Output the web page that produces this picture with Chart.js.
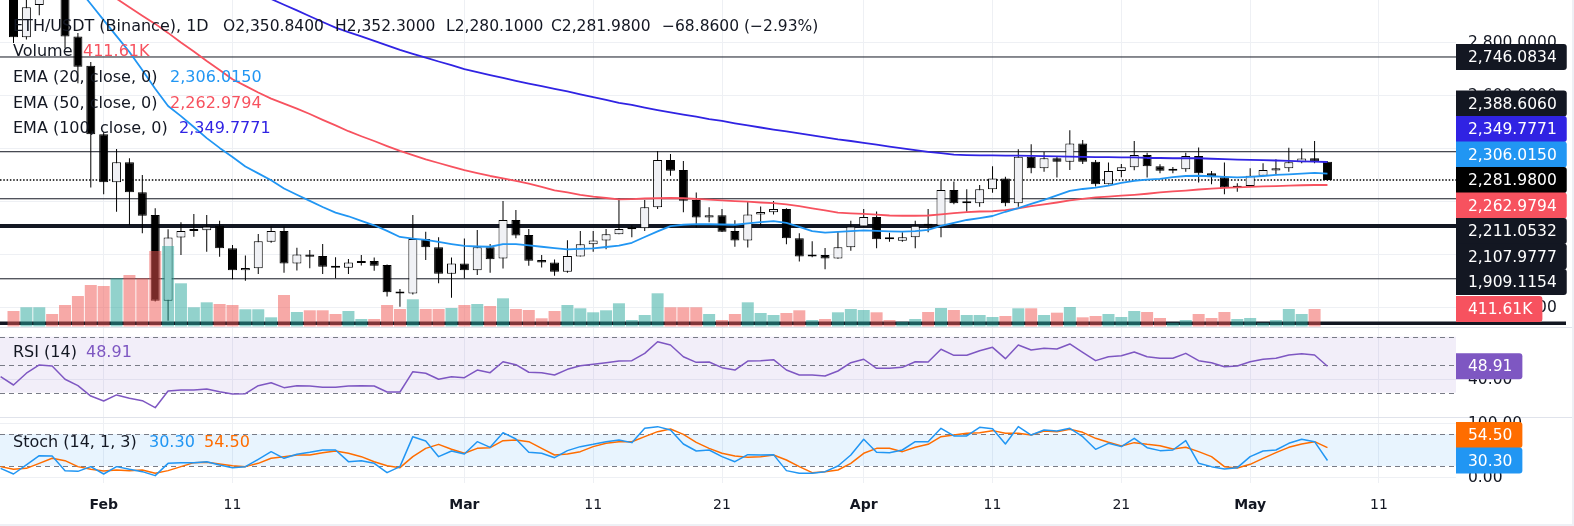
<!DOCTYPE html>
<html>
<head>
<meta charset="utf-8">
<title>ETH/USDT (Binance), 1D</title>
<script src="https://cdn.jsdelivr.net/npm/chart.js@4.4.1/dist/chart.umd.min.js"></script>
<style>
  html, body { margin:0; padding:0; background:#eef0f5; }
  #c { position:absolute; left:0; top:0; background:#ffffff; }
</style>
</head>
<body>
<canvas id="c" width="1572" height="524"></canvas>
<script>
// ================= DATA =================
const dates = [
  '01-24','01-25','01-26','01-27','01-28','01-29','01-30','01-31',
  '02-01','02-02','02-03','02-04','02-05','02-06','02-07','02-08','02-09','02-10','02-11','02-12','02-13','02-14',
  '02-15','02-16','02-17','02-18','02-19','02-20','02-21','02-22','02-23','02-24','02-25','02-26','02-27','02-28',
  '03-01','03-02','03-03','03-04','03-05','03-06','03-07','03-08','03-09','03-10','03-11','03-12','03-13','03-14','03-15','03-16',
  '03-17','03-18','03-19','03-20','03-21','03-22','03-23','03-24','03-25','03-26','03-27','03-28','03-29','03-30','03-31',
  '04-01','04-02','04-03','04-04','04-05','04-06','04-07','04-08','04-09','04-10','04-11','04-12','04-13','04-14','04-15',
  '04-16','04-17','04-18','04-19','04-20','04-21','04-22','04-23','04-24','04-25','04-26','04-27','04-28','04-29','04-30',
  '05-01','05-02','05-03','05-04','05-05','05-06','05-07'
];
const open = [
  null,3020,2821,2942,3040,3010,2823,2713,
  2455,2273,2349,2236,2150,1826,2065,2089,2092,2109,2024,1941,1949,2049,2089,1967,2001,1995,1956,1951,1969,1976,1961,1860,1854,2059,2028,1928,
  1967,1941,2028,1986,2131,2074,1980,1971,1936,1993,2039,2054,2077,2096,2100,2179,2357,2320,2206,2140,2149,2089,2054,2152,2160,2172,2062,1993,1999,1986,2028,
  2106,2142,2061,2053,2066,2113,2109,2244,2194,2194,2247,2288,2194,2370,2326,2364,2351,2420,2351,2266,2316,2330,2376,2334,2317,2322,2372,2307,2292,2253,
  2259,2298,2318,2326,2349,2364,2350.84
];
const high = [
  null,3060,2990,3060,3075,3030,2837,2727,
  2462,2399,2364,2301,2175,2096,2122,2154,2150,2128,2037,1997,2078,2106,2106,2026,2018,2040,1990,1984,1999,1989,1963,1871,2150,2087,2066,1989,
  2061,2093,2040,2203,2169,2097,1999,1982,2055,2089,2089,2097,2212,2111,2206,2391,2380,2354,2235,2179,2172,2130,2203,2182,2203,2175,2081,2051,2025,2089,2128,
  2172,2163,2083,2085,2128,2172,2278,2276,2247,2263,2334,2294,2398,2417,2388,2372,2470,2433,2357,2348,2342,2429,2385,2341,2331,2385,2405,2316,2348,2270,
  2326,2345,2360,2404,2401,2429,2352.30
];
const low = [
  null,2799,2812,2904,2975,2779,2647,2254,
  2228,2162,2112,2081,1823,1751,1999,2068,2011,1992,1907,1902,1927,2045,1932,1940,1949,1927,1911,1927,1959,1939,1842,1804,1850,1980,1892,1838,
  1911,1923,1932,1948,2062,1958,1952,1921,1932,1993,2011,2021,2077,2066,2089,2172,2298,2160,2103,2122,2086,2030,2027,2109,2152,2039,1974,1990,1945,1985,2015,
  2105,2024,2049,2049,2024,2085,2066,2190,2162,2181,2234,2183,2181,2307,2313,2291,2320,2342,2257,2265,2292,2319,2291,2307,2307,2313,2272,2266,2228,2238,
  2258,2297,2300,2313,2345,2345,2280.10
];
const close = [
  null,2821,2934,3040,3010,2823,2709,2455,
  2273,2349,2236,2147,1826,2065,2089,2094,2106,2024,1941,1950,2051,2089,1967,2001,1992,1955,1951,1971,1975,1958,1858,1854,2059,2028,1928,1967,
  1941,2028,1983,2131,2072,1977,1971,1936,1995,2039,2054,2077,2097,2101,2179,2357,2317,2204,2140,2149,2087,2054,2152,2161,2172,2062,1993,1999,1986,2028,2106,
  2142,2058,2058,2066,2109,2109,2244,2194,2198,2247,2288,2194,2370,2326,2364,2351,2420,2351,2266,2316,2330,2376,2334,2317,2322,2372,2307,2292,2253,2259,
  2298,2320,2326,2349,2363,2350.84,2281.98
];
// volume in thousands (K)
const volume = [
  null,365,452,452,294,506,717,976,
  953,1134,1211,1134,1776,1893,1016,452,569,529,506,405,405,216,741,341,381,381,294,365,176,176,506,412,640,412,412,435,
  506,529,482,663,412,388,193,365,506,428,334,381,546,153,270,781,452,452,452,294,153,294,569,318,270,318,381,153,176,334,412,
  388,334,153,113,176,341,435,388,270,270,223,247,428,428,270,325,459,216,247,294,223,365,341,200,89,153,294,200,341,176,
  200,89,153,412,294,411.61,null
];
const ema20 = [
  3190,3170,3150,3120,3090,3050,3006,2946,
  2885,2825,2765,2697,2626,2561,2523,2482,2440,2403,2369,2333,2307,2281,2250,2226,2203,2180,2159,2145,2128,2111,2090,2067,2061,2056,2048,2040,
  2033,2031,2030,2040,2040,2035,2030,2025,2020,2022,2024,2029,2034,2045,2067,2088,2108,2113,2115,2115,2114,2113,2118,2123,2127,2120,2105,2089,2083,2086,2089,
  2092,2090,2088,2087,2089,2094,2109,2120,2131,2138,2146,2162,2176,2192,2207,2224,2241,2248,2253,2261,2271,2279,2283,2286,2293,2297,2298,2296,2294,2292,
  2294,2297,2301,2303,2306,2309,2306.0150
];
const ema50 = [
  3255,3225,3195,3161,3127,3097,3064,3032,
  2999,2966,2934,2902,2871,2837,2801,2767,2731,2697,2662,2637,2612,2589,2570,2551,2531,2509,2488,2466,2447,2429,2410,2392,2376,2360,2346,2332,
  2319,2308,2297,2288,2279,2268,2256,2243,2235,2226,2219,2214,2209,2210,2212,2213,2214,2213,2211,2208,2205,2202,2200,2197,2195,2190,2183,2175,2167,2159,2156,
  2154,2151,2148,2147,2147,2148,2152,2157,2161,2163,2164,2168,2175,2183,2190,2197,2205,2211,2216,2219,2223,2226,2230,2235,2239,2242,2246,2249,2252,2254,
  2256,2258,2259,2261,2262,2263,2262.9794
];
const ema100 = [
  3420,3398,3376,3355,3334,3312,3290,3268,
  3248,3225,3203,3182,3160,3138,3117,3095,3073,3052,3030,3008,2987,2965,2943,2922,2900,2878,2857,2840,2824,2807,2790,2773,2758,2744,2729,2715,
  2700,2689,2678,2667,2656,2646,2636,2626,2616,2605,2595,2584,2573,2565,2555,2546,2537,2529,2521,2512,2505,2496,2488,2480,2472,2465,2458,2450,2443,2435,2429,
  2422,2415,2408,2401,2395,2388,2383,2378,2376,2375,2375,2374,2374,2373,2372,2371,2370,2369,2368,2368,2367,2367,2365,2365,2364,2364,2364,2362,2361,2359,
  2358,2357,2355.5,2354,2352.5,2351.2,2349.7771
];
const rsi = [
  41.4,35.5,43.9,49.8,49.1,39.6,35.0,27.6,
  24.1,28.4,26.0,24.3,19.3,31.2,31.9,31.9,32.6,30.7,29.1,29.3,35.0,37.1,33.6,35.0,34.8,33.9,33.9,34.8,35.0,34.8,30.5,30.5,45.0,43.9,39.6,41.4,
  40.7,46.2,44.3,52.1,50.0,44.6,44.3,42.6,46.7,49.3,50.3,51.4,52.6,52.9,58.1,66.4,64.1,55.7,51.7,51.9,47.9,46.2,52.6,52.9,53.6,46.2,42.6,42.6,41.9,45.5,51.4,
  53.9,47.4,47.4,48.1,52.1,51.9,61.0,56.7,56.7,60.0,62.4,54.3,64.1,60.5,61.7,61.2,64.8,58.8,52.9,55.7,56.4,59.1,55.7,54.6,54.6,58.1,52.9,51.4,48.6,49.1,
  52.1,53.9,54.6,56.9,57.9,56.9,48.91
];
const stochK = [
  15.6,5.0,21.9,39.4,38.8,11.3,10.0,18.8,
  5.0,18.8,13.8,9.4,1.9,25.0,26.3,26.3,28.1,21.9,16.9,18.8,32.5,46.9,34.4,41.9,45.6,50.0,50.0,28.1,30.0,25.0,7.5,18.8,75.0,66.9,37.5,48.1,
  42.5,65.6,55.0,82.5,70.6,45.6,43.8,35.6,48.8,56.3,60.6,65.6,68.8,63.8,90.6,93.8,87.5,61.3,48.1,50.0,37.5,28.1,41.3,40.6,41.3,11.3,6.3,6.3,9.4,20.0,40.6,
  70.0,45.6,45.0,50.0,65.6,65.6,90.6,76.3,76.3,92.5,90.0,61.3,93.8,78.1,87.5,85.6,90.6,75.0,51.3,62.5,56.3,71.9,54.4,48.8,50.0,67.5,25.0,18.8,14.4,16.9,
  37.5,48.1,50.0,62.5,70.0,65.6,30.30
];
const stochD = [
  18.8,13.8,15.6,25.0,34.4,30.0,18.8,13.8,
  10.6,12.5,11.3,12.5,6.3,11.3,18.8,26.3,26.9,23.8,20.6,18.8,25.0,34.4,37.5,40.6,40.6,45.0,48.1,43.8,37.5,28.1,20.6,16.9,37.5,53.1,60.6,51.3,
  43.8,53.1,54.4,67.5,68.8,65.6,53.1,40.6,42.5,46.9,56.3,62.5,65.6,65.6,75.0,84.4,89.4,79.4,64.4,53.1,43.8,38.8,36.3,37.5,40.6,31.3,18.8,7.5,9.4,12.5,25.0,
  43.8,53.1,53.1,46.9,55.0,60.6,75.0,78.1,81.3,82.5,86.3,81.3,81.3,78.1,85.6,84.4,88.8,83.1,71.9,64.4,57.5,63.8,60.6,58.1,51.9,55.0,46.9,37.5,18.8,16.3,
  23.1,34.4,45.0,55.0,61.3,65.6,54.50
];
// horizontal price levels drawn on the chart
const levels = [2746.0834, 2388.6060, 2211.0532, 2107.9777, 1909.1154, 1741.2];
// axis ticks
const tickDates  = ['02-01','02-11','03-01','03-11','03-21','04-01','04-11','04-21','05-01','05-11'];
const tickLabels = ['Feb','11','Mar','11','21','Apr','11','21','May','11'];
const monthLabels = ['Feb','Mar','Apr','May'];
const priceTicks = [1800, 2000, 2200, 2400, 2600, 2800];
const rsiBands = [70, 50, 30];
const rsiTicks = [40];
const stochBands = [80, 20];
const stochTicks = [100, 0];

// ================= STYLE / LAYOUT =================
const FONT = "'DejaVu Sans', 'Noto Sans', sans-serif";
const LEG_SIZE = 16, AX_SIZE = 15.5;
const TXT = '#131722';
const GRID = '#eef0f4';
const C_EMA20 = '#2196f3', C_EMA50 = '#f7525f', C_EMA100 = '#3023e3';
const C_RSI = '#7e57c2', C_K = '#2196f3', C_D = '#ff6d00';
const UP_FILL = '#f0f1f5';
const levelStyle = [{w:1},{w:1},{w:1},{w:4},{w:1},{w:3.5, extend:true}];
const PLOT = { right: 1456, bottom: 483 };
const SEPARATORS = [327.5, 417.5];

const YEAR = 2023;
function dayIndex(s) {
  const [m, d] = s.split('-').map(Number);
  const [m0, d0] = dates[0].split('-').map(Number);
  return Math.round((Date.UTC(YEAR, m - 1, d) - Date.UTC(YEAR, m0 - 1, d0)) / 86400000);
}
const xs = dates.map(dayIndex);
const last = dates.length - 1;

function vRange(val, px, ppu) { const max = val + px / ppu; return { min: max - PLOT.bottom / ppu, max }; }
const priceR = vRange(2800, 42.7, 0.265);
const volR   = vRange(0, 326.5, 17.5 / 411.61);
const rsiR   = vRange(70, 336.7, 1.4);
const stR    = vRange(80, 434, 32 / 60);
const PX_PER_DAY = 12.882;
const xMin = 1 - 13.5 / PX_PER_DAY, xMax = xMin + PLOT.right / PX_PER_DAY;

const fmt = (v, d) => Number(v).toLocaleString('en-US', {minimumFractionDigits: d, maximumFractionDigits: d});

// ================= DATASETS =================
const cIdx = xs.map((x, i) => i).filter(i => open[i] != null);
const vIdx = xs.map((x, i) => i).filter(i => volume[i] != null);
const isUp = i => close[i] >= open[i];
const line = arr => arr.map((v, i) => ({x: xs[i], y: v}));
const lineDs = (arr, axis, color, w) => ({
  type: 'line', data: line(arr), yAxisID: axis, borderColor: color, borderWidth: w,
  pointRadius: 0, tension: 0, order: 2, borderJoinStyle: 'round'
});

const datasets = [
  { type: 'bar', data: vIdx.map(i => ({x: xs[i], y: volume[i]})), yAxisID: 'yVol',
    backgroundColor: vIdx.map(i => isUp(i) ? 'rgba(38,166,154,0.5)' : 'rgba(239,83,80,0.5)'),
    barThickness: 12, grouped: false, inflateAmount: 0, order: 1 },
  lineDs(ema20, 'y', C_EMA20, 1.8),
  lineDs(ema50, 'y', C_EMA50, 1.8),
  lineDs(ema100, 'y', C_EMA100, 1.8),
  { type: 'bar', data: cIdx.map(i => ({x: xs[i], y: [open[i], close[i]]})), yAxisID: 'y',
    backgroundColor: cIdx.map(i => isUp(i) ? UP_FILL : '#000000'), borderColor: '#000000',
    borderWidth: 1, borderSkipped: false, barThickness: 9, minBarLength: 2, grouped: false, inflateAmount: 0, order: 3 },
  { type: 'bar', data: cIdx.map(i => ({x: xs[i], y: [low[i], high[i]]})), yAxisID: 'y',
    backgroundColor: '#000000', barThickness: 1, grouped: false, inflateAmount: 0, order: 4 },
  lineDs(rsi, 'yRsi', C_RSI, 1.5),
  lineDs(stochK, 'yStoch', C_K, 1.5),
  lineDs(stochD, 'yStoch', C_D, 1.5)
];

// ================= PLUGINS =================
function hline(ctx, y, x1, x2, color, w, dash) {
  ctx.beginPath(); ctx.setLineDash(dash || []); ctx.strokeStyle = color; ctx.lineWidth = w;
  ctx.moveTo(x1, y); ctx.lineTo(x2, y); ctx.stroke();
}
const panelPlugin = {
  id: 'panels',
  beforeDatasetsDraw(chart) {
    const { ctx, chartArea: a, scales: s } = chart;
    ctx.save();
    const band = (sc, hi, lo, fill) => {
      const y1 = sc.getPixelForValue(hi), y2 = sc.getPixelForValue(lo);
      ctx.fillStyle = fill; ctx.fillRect(a.left, y1, a.right - a.left, y2 - y1);
    };
    rsiTicks.forEach(v => hline(ctx, Math.round(s.yRsi.getPixelForValue(v)) + 0.5, a.left, a.right, GRID, 1));
    stochTicks.forEach(v => hline(ctx, Math.round(s.yStoch.getPixelForValue(v)) + 0.5, a.left, a.right, GRID, 1));
    band(s.yRsi, rsiBands[0], rsiBands[2], 'rgba(126,87,194,0.1)');
    band(s.yStoch, stochBands[0], stochBands[1], 'rgba(33,150,243,0.1)');
    rsiBands.forEach(v => hline(ctx, Math.round(s.yRsi.getPixelForValue(v)) + 0.5, a.left, a.right, '#787b86', 1, [5, 4]));
    stochBands.forEach(v => hline(ctx, Math.round(s.yStoch.getPixelForValue(v)) + 0.5, a.left, a.right, '#787b86', 1, [5, 4]));
    SEPARATORS.forEach(y => hline(ctx, y, 0, chart.width, '#e0e3eb', 1));
    levels.forEach((v, i) => {
      const st = levelStyle[i];
      hline(ctx, s.y.getPixelForValue(v), a.left, st.extend ? 1566 : a.right, '#131722', st.w);
    });
    hline(ctx, s.y.getPixelForValue(close[last]), a.left, a.right, '#000000', 1.3, [1.5, 1.8]);
    ctx.restore();
  },
  afterDatasetsDraw(chart) {
    const { ctx, chartArea: a, scales: s } = chart;
    ctx.save();
    ctx.font = `${AX_SIZE}px ${FONT}`; ctx.fillStyle = TXT; ctx.textBaseline = 'middle'; ctx.textAlign = 'left';
    rsiTicks.forEach(v => ctx.fillText(fmt(v, 2), a.right + 12, s.yRsi.getPixelForValue(v) + 1));
    stochTicks.forEach(v => ctx.fillText(fmt(v, 2), a.right + 12, s.yStoch.getPixelForValue(v) + 1));
    ctx.restore();
  }
};

function stackLabels(items, gap) {
  items.sort((p, q) => p.y - q.y);
  const ai = Math.max(0, items.findIndex(it => it.anchor));
  for (let i = ai - 1; i >= 0; i--) items[i].y = Math.min(items[i].y, items[i + 1].y - gap);
  for (let i = ai + 1; i < items.length; i++) items[i].y = Math.max(items[i].y, items[i - 1].y + gap);
  return items;
}
function drawTag(ctx, x, y, text, bg) {
  const h = 26;
  ctx.font = `${AX_SIZE}px ${FONT}`;
  const w = ctx.measureText(text).width + 22;
  ctx.fillStyle = bg; ctx.beginPath(); ctx.roundRect(x, y - h / 2, w, h, [0, 3, 3, 0]); ctx.fill();
  ctx.fillStyle = '#ffffff'; ctx.textBaseline = 'middle'; ctx.textAlign = 'left';
  ctx.fillText(text, x + 12, y + 1);
}
const labelPlugin = {
  id: 'labels',
  afterDraw(chart) {
    const { ctx, chartArea: a, scales: s } = chart;
    const lastVol = vIdx[vIdx.length - 1];
    ctx.save();
    const pItems = [];
    levels.slice(0, 5).forEach(v => pItems.push({ v, c: '#131722' }));
    pItems.push({ v: ema100[last], c: C_EMA100 }, { v: ema20[last], c: C_EMA20 },
                { v: close[last], c: '#000000', anchor: true }, { v: ema50[last], c: C_EMA50 });
    pItems.forEach(it => it.y = s.y.getPixelForValue(it.v));
    stackLabels(pItems, 25.5).forEach(it => drawTag(ctx, a.right, it.y, fmt(it.v, 4), it.c));
    drawTag(ctx, a.right, s.yVol.getPixelForValue(volume[lastVol]), fmt(volume[lastVol], 2) + 'K', C_EMA50);
    drawTag(ctx, a.right, s.yRsi.getPixelForValue(rsi[last]), fmt(rsi[last], 2), C_RSI);
    const sItems = [{ v: stochK[last], c: C_K, anchor: true }, { v: stochD[last], c: C_D }];
    sItems.forEach(it => it.y = s.yStoch.getPixelForValue(it.v));
    stackLabels(sItems, 25.5).forEach(it => drawTag(ctx, a.right, it.y, fmt(it.v, 2), it.c));

    ctx.font = `${LEG_SIZE}px ${FONT}`; ctx.textBaseline = 'alphabetic'; ctx.textAlign = 'left';
    const put = (t, x, y, c) => { ctx.fillStyle = c; ctx.fillText(t, x, y); };
    const prev = close[last - 1], chg = close[last] - prev, pct = chg / prev * 100;
    const sign = v => (v < 0 ? '\u2212' : '+');
    put('ETH/USDT (Binance), 1D', 13, 30.7, TXT);
    ctx.font = `${AX_SIZE}px ${FONT}`;
    put('O' + fmt(open[last], 4), 223, 30.7, TXT);
    put('H' + fmt(high[last], 4), 335, 30.7, TXT);
    put('L' + fmt(low[last], 4), 446, 30.7, TXT);
    put('C' + fmt(close[last], 4), 551, 30.7, TXT);
    put(sign(chg) + fmt(Math.abs(chg), 4) + ' (' + sign(chg) + fmt(Math.abs(pct), 2) + '%)', 662, 30.7, TXT);
    ctx.font = `${LEG_SIZE}px ${FONT}`;
    put('Volume', 13, 56.3, TXT);              put(fmt(volume[lastVol], 2) + 'K', 83, 56.3, C_EMA50);
    put('EMA (20, close, 0)', 13, 82, TXT);    put(fmt(ema20[last], 4), 170, 82, C_EMA20);
    put('EMA (50, close, 0)', 13, 107.7, TXT); put(fmt(ema50[last], 4), 170, 107.7, C_EMA50);
    put('EMA (100, close, 0)', 13, 133.3, TXT); put(fmt(ema100[last], 4), 179, 133.3, C_EMA100);
    put('RSI (14)', 13, 357.3, TXT);           put(fmt(rsi[last], 2), 86, 357.3, C_RSI);
    put('Stoch (14, 1, 3)', 13, 446.7, TXT);   put(fmt(stochK[last], 2), 149, 446.7, C_K);
    put(fmt(stochD[last], 2), 204, 446.7, C_D);
    ctx.restore();
  }
};

// ================= CHART =================
new Chart(document.getElementById('c'), {
  type: 'bar',
  data: { datasets },
  options: {
    responsive: false, animation: false, events: [],
    layout: { padding: 0 },
    plugins: { legend: { display: false }, tooltip: { enabled: false } },
    scales: {
      x: {
        type: 'linear', axis: 'x', min: xMin, max: xMax, offset: false, bounds: 'data',
        grid: { color: GRID, offset: false, drawTicks: false },
        border: { display: false },
        afterBuildTicks: sc => { sc.ticks = tickDates.map(d => ({ value: dayIndex(d) })); },
        afterFit: sc => { sc.height = 524 - PLOT.bottom; sc.paddingLeft = 0; sc.paddingRight = 0; },
        ticks: {
          autoSkip: false, maxRotation: 0, minRotation: 0, padding: 14, color: TXT,
          font: c => ({ family: FONT, size: 14, weight: monthLabels.includes(tickLabels[c.index]) ? 'bold' : 'normal' }),
          callback: (v, i) => tickLabels[i]
        }
      },
      y: {
        type: 'linear', axis: 'y', position: 'right', min: priceR.min, max: priceR.max, bounds: 'data',
        grid: { color: GRID, drawTicks: false }, border: { display: false },
        afterBuildTicks: sc => { sc.ticks = priceTicks.map(v => ({ value: v })); },
        afterFit: sc => { sc.width = 1572 - PLOT.right; sc.paddingTop = 0; sc.paddingBottom = 0; },
        ticks: { padding: 12, color: TXT, font: { family: FONT, size: AX_SIZE }, callback: v => fmt(v, 4) }
      },
      yVol:   { type: 'linear', axis: 'y', position: 'left', display: false, min: volR.min, max: volR.max, bounds: 'data' },
      yRsi:   { type: 'linear', axis: 'y', position: 'left', display: false, min: rsiR.min, max: rsiR.max, bounds: 'data' },
      yStoch: { type: 'linear', axis: 'y', position: 'left', display: false, min: stR.min, max: stR.max, bounds: 'data' }
    }
  },
  plugins: [panelPlugin, labelPlugin]
});
</script>
</body>
</html>
